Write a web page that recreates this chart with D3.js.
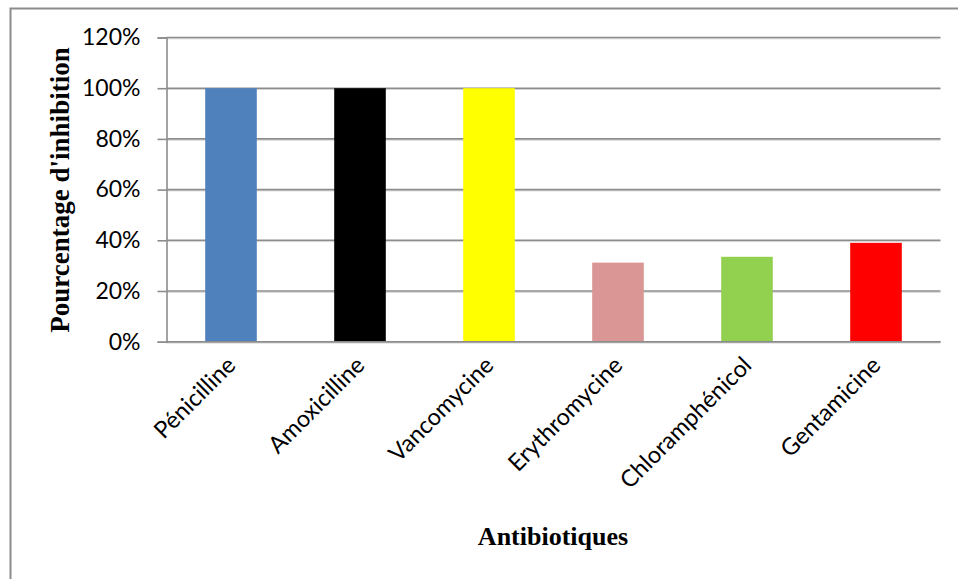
<!DOCTYPE html>
<html>
<head>
<meta charset="utf-8">
<script src="https://cdn.jsdelivr.net/npm/d3@7"></script>
<style>
  html, body { margin: 0; padding: 0; background: #fff; }
  svg { display: block; }
</style>
</head>
<body>
<svg id="chart" width="958" height="579"></svg>
<script>
// Antibiotic inhibition percentages
const categories = ["Pénicilline", "Amoxicilline", "Vancomycine", "Erythromycine", "Chloramphénicol", "Gentamicine"];
const values = [1.00, 1.00, 1.00, 0.312, 0.335, 0.39];
const colors = ["#4f81bd", "#000000", "#ffff00", "#d99694", "#92d050", "#ff0000"];
const yTicks = [0, 0.2, 0.4, 0.6, 0.8, 1.0, 1.2];
const yTitle = "Pourcentage d'inhibition";
const xTitle = "Antibiotiques";

const svg = d3.select("#chart");
const plot = { left: 166.5, right: 940.5, top: 37.5, bottom: 341.7 };

// Outer chart frame (top and left edges visible)
svg.append("path")
  .attr("d", "M10.5,590 L10.5,8.5 L970,8.5")
  .attr("fill", "none")
  .attr("stroke", "#8c8c8c")
  .attr("stroke-width", 2);

const x = d3.scaleBand()
  .domain(categories)
  .range([plot.left, plot.right])
  .paddingInner(0.6)
  .paddingOuter(0.3);

const y = d3.scaleLinear()
  .domain([0, 1.2])
  .range([plot.bottom, plot.top]);

// Horizontal gridlines
const grid = svg.append("g");
grid.selectAll("line.shade")
  .data(yTicks)
  .join("line")
  .attr("class", "shade")
  .attr("x1", plot.left).attr("x2", plot.right)
  .attr("y1", d => y(d) + 1.3).attr("y2", d => y(d) + 1.3)
  .attr("stroke", "#d4d4d4").attr("stroke-width", 1);
grid.selectAll("line.main")
  .data(yTicks)
  .join("line")
  .attr("class", "main")
  .attr("x1", plot.left).attr("x2", plot.right)
  .attr("y1", d => y(d)).attr("y2", d => y(d))
  .attr("stroke", "#8c8c8c").attr("stroke-width", 1.6);

// Bars
svg.append("g").selectAll("rect")
  .data(categories)
  .join("rect")
  .attr("x", d => x(d))
  .attr("width", x.bandwidth())
  .attr("y", (d, i) => y(values[i]))
  .attr("height", (d, i) => y(0) - y(values[i]))
  .attr("fill", (d, i) => colors[i]);

// Baseline redrawn over bars
svg.append("line")
  .attr("x1", plot.left).attr("x2", plot.right)
  .attr("y1", y(0)).attr("y2", y(0))
  .attr("stroke", "#8c8c8c").attr("stroke-width", 1.6);

// Y axis
const yAxis = svg.append("g")
  .attr("transform", `translate(${plot.left},0)`)
  .call(d3.axisLeft(y).tickValues(yTicks).tickFormat(d3.format(".0%")).tickSize(9).tickPadding(17));
yAxis.select(".domain").attr("stroke", "#8c8c8c").attr("stroke-width", 1.6);
yAxis.selectAll(".tick line").attr("stroke", "#8c8c8c").attr("stroke-width", 1.6);
yAxis.selectAll(".tick text")
  .attr("font-family", "Lato, 'Open Sans', sans-serif")
  .attr("font-size", 23)
  .attr("fill", "#000");

// X axis category labels, rotated
svg.append("g").selectAll("text")
  .data(categories)
  .join("text")
  .attr("transform", d => `translate(${x(d) + x.bandwidth() / 2 + 6},${plot.bottom + 25}) rotate(-45)`)
  .attr("text-anchor", "end")
  .attr("font-family", "Lato, 'Open Sans', sans-serif")
  .attr("font-size", 23.5)
  .attr("fill", "#000")
  .text(d => d);

// Axis titles
svg.append("text")
  .attr("transform", `translate(69,190) rotate(-90)`)
  .attr("text-anchor", "middle")
  .attr("font-family", "'Liberation Serif', 'Times New Roman', serif")
  .attr("font-weight", "bold")
  .attr("font-size", 27)
  .attr("fill", "#000")
  .text(yTitle);

svg.append("text")
  .attr("x", 553)
  .attr("y", 545)
  .attr("text-anchor", "middle")
  .attr("font-family", "'Liberation Serif', 'Times New Roman', serif")
  .attr("font-weight", "bold")
  .attr("font-size", 26)
  .attr("fill", "#000")
  .text(xTitle);
</script>
</body>
</html>
